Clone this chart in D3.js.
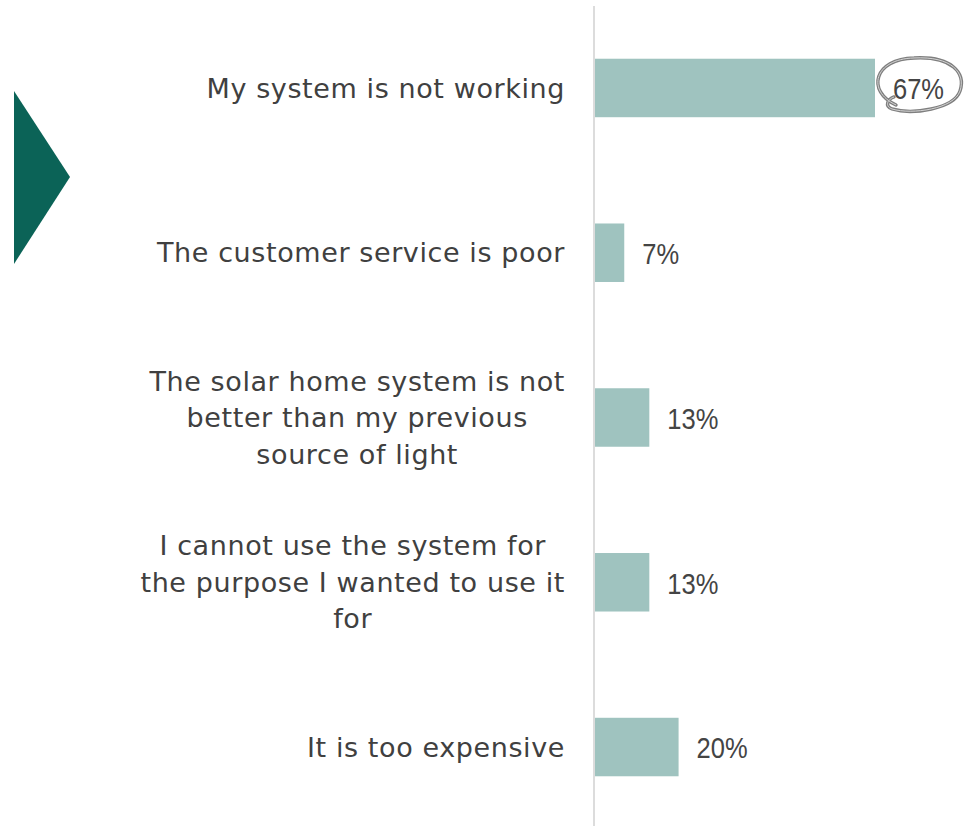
<!DOCTYPE html>
<html>
<head>
<meta charset="utf-8">
<script src="https://cdn.jsdelivr.net/npm/d3@7"></script>
<style>
  html, body { margin: 0; padding: 0; background: #ffffff; }
  svg { display: block; }
</style>
</head>
<body>
<svg id="chart" width="969" height="826"></svg>
<script>
// Reasons for dissatisfaction with the solar home system
const categories = [
  ["My system is not working"],
  ["The customer service is poor"],
  ["The solar home system is not", "better than my previous", "source of light"],
  ["I cannot use the system for", "the purpose I wanted to use it", "for"],
  ["It is too expensive"]
];
const values = [67, 7, 13, 13, 20];
const valueLabels = ["67%", "7%", "13%", "13%", "20%"];

const svg = d3.select("#chart");
const W = 969, H = 826;
const x0 = 595;

const x = d3.scaleLinear().domain([0, 67]).range([x0, 875]);
const y = d3.scaleBand()
  .domain(d3.range(categories.length))
  .range([6, 829])
  .paddingInner(0.645)
  .paddingOuter(0.32);

const labelFont = "'DejaVu Sans', sans-serif";
const numFont = "'Liberation Sans', sans-serif";

// bars
svg.append("g")
  .selectAll("rect")
  .data(values)
  .join("rect")
  .attr("x", x0)
  .attr("y", (d, i) => y(i))
  .attr("width", d => x(d) - x0)
  .attr("height", y.bandwidth())
  .attr("fill", "#9fc3bf");

// vertical baseline
svg.append("line")
  .attr("x1", 594).attr("x2", 594)
  .attr("y1", 6).attr("y2", H)
  .attr("stroke", "#dcdcdc")
  .attr("stroke-width", 2);

// category labels: block right-aligned, lines centred within the block
const lineH = 36.5;
const catG = svg.append("g");
categories.forEach((lines, i) => {
  const cy = y(i) + y.bandwidth() / 2;
  const g = catG.append("g");
  const texts = lines.map((t, j) =>
    g.append("text")
      .attr("y", cy + (j - (lines.length - 1) / 2) * lineH)
      .attr("dy", "0.36em")
      .attr("font-family", labelFont)
      .attr("font-size", 27)
      .attr("letter-spacing", 0.6)
      .attr("fill", "#404040")
      .text(t)
  );
  const maxW = d3.max(texts, t => t.node().getComputedTextLength());
  texts.forEach(t => t.attr("x", 565 - maxW / 2).attr("text-anchor", "middle"));
});

// value labels (slightly narrowed horizontally)
svg.append("g")
  .selectAll("text")
  .data(values)
  .join("text")
  .attr("transform", (d, i) => `translate(${x(d) + 18},${y(i) + y.bandwidth() / 2 + 1}) scale(0.88,1)`)
  .attr("dy", "0.36em")
  .attr("font-family", numFont)
  .attr("font-size", 29)
  .attr("fill", "#444444")
  .text((d, i) => valueLabels[i]);

// hand-drawn loop around the top value
const cx = x(values[0]) + 43, cyy = y(0) + y.bandwidth() / 2 - 3;
const loop = d3.path();
loop.moveTo(cx - 22, cyy + 20);
loop.bezierCurveTo(cx - 52, cyy + 6, cx - 44, cyy - 26, cx - 4, cyy - 27);
loop.bezierCurveTo(cx + 34, cyy - 29, cx + 48, cyy - 12, cx + 42, cyy + 6);
loop.bezierCurveTo(cx + 36, cyy + 24, cx - 6, cyy + 30, cx - 26, cyy + 24);
loop.bezierCurveTo(cx - 34, cyy + 21, cx - 30, cyy + 14, cx - 24, cyy + 12);
svg.append("path")
  .attr("d", loop.toString())
  .attr("fill", "none")
  .attr("stroke", "#7f7f7f")
  .attr("stroke-width", 3.4)
  .attr("stroke-linecap", "round");
svg.append("path")
  .attr("d", loop.toString())
  .attr("fill", "none")
  .attr("stroke", "#d4d4d4")
  .attr("stroke-width", 1);

// marker triangle
svg.append("path")
  .attr("d", d3.line()([[14, 91], [70, 177], [14, 264]]) + "Z")
  .attr("fill", "#0b6357");
</script>
</body>
</html>
